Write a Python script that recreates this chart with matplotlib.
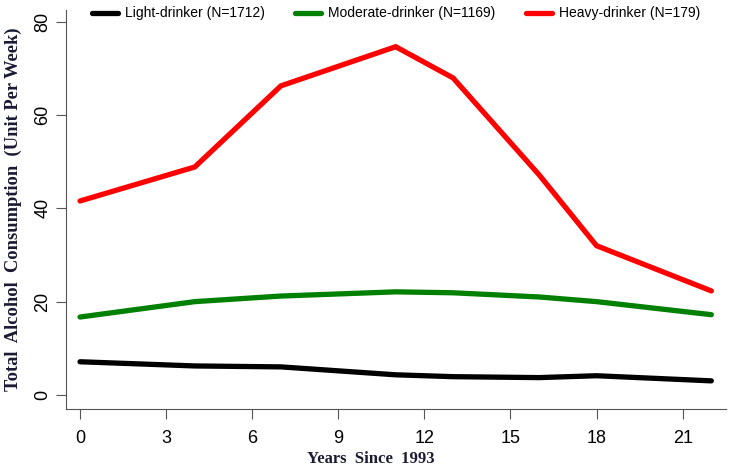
import matplotlib
matplotlib.use("Agg")
import matplotlib.pyplot as plt

years = [0, 4, 7, 11, 13, 16, 18, 22]
light = [7.1, 6.2, 6.0, 4.3, 3.9, 3.7, 4.1, 3.0]
moderate = [16.7, 20.0, 21.2, 22.1, 21.9, 21.0, 20.0, 17.2]
heavy = [41.6, 48.9, 66.3, 74.7, 68.0, 47.2, 32.0, 22.3]

series = [
    ("Light-drinker (N=1712)", light, "black"),
    ("Moderate-drinker (N=1169)", moderate, "#008000"),
    ("Heavy-drinker (N=179)", heavy, "#ff0000"),
]
xticks = [0, 3, 6, 9, 12, 15, 18, 21]
yticks = [0, 20, 40, 60, 80]

plt.rcParams["font.family"] = ["Liberation Sans", "DejaVu Sans"]

fig = plt.figure(figsize=(7.33, 4.71), dpi=100)
ax = fig.add_axes([0.09, 0.132, 0.90, 0.847])

for label, vals, color in series:
    ax.plot(years, vals, color=color, lw=3.8, label=label,
            solid_capstyle="round", solid_joinstyle="miter")

ax.set_xlim(-0.49, 22.5)
ax.set_ylim(-3, 82.6)
ax.set_xticks(xticks)
ax.set_yticks(yticks)
for s in ["top", "right"]:
    ax.spines[s].set_visible(False)
for s in ["left", "bottom"]:
    ax.spines[s].set_color("#555555")
ax.tick_params(axis="both", colors="#555555", labelcolor="black",
               direction="out", length=7, labelsize=13)
ax.tick_params(axis="x", pad=8)
plt.setp(ax.get_yticklabels(), rotation=90, va="center")

ax.set_xlabel("Years  Since  1993", fontfamily="Liberation Serif",
              fontweight="bold", fontsize=12, color="#1a1a33")
ax.xaxis.set_label_coords(0.462, -0.106)
ax.set_ylabel("Total  Alcohol  Consumption  (Unit Per Week)",
              fontfamily="Liberation Serif", fontweight="bold",
              fontsize=13.3, color="#1a1a33")
ax.yaxis.set_label_coords(-0.066, 0.5)

ax.legend(loc="upper left", bbox_to_anchor=(0.02, 1.04), ncol=3,
          frameon=False, fontsize=10, handlelength=1.87, columnspacing=2.2,
          handletextpad=0.5)

fig.savefig("out.png", dpi=100)
